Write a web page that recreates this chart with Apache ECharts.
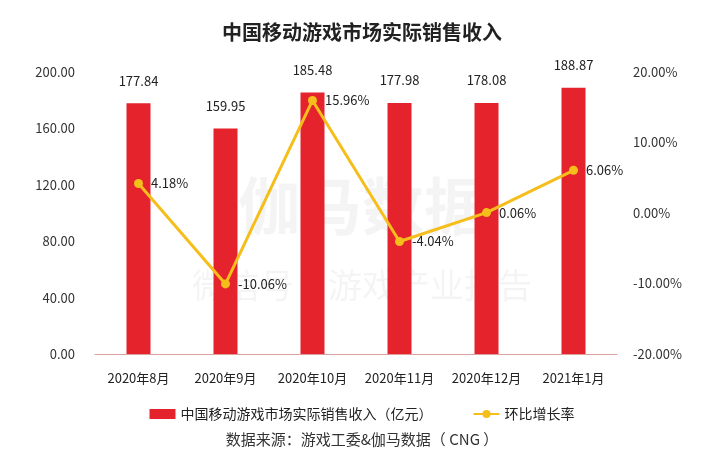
<!DOCTYPE html>
<html><head><meta charset="utf-8">
<script src="https://cdn.jsdelivr.net/npm/echarts@6/dist/echarts.min.js"></script>
<style>html,body{margin:0;padding:0;background:#fff}#c{width:724px;height:469px}</style>
</head><body><div id="c"></div>
<script>
const categories = ['2020年8月','2020年9月','2020年10月','2020年11月','2020年12月','2021年1月'];
const revenue = [177.84, 159.95, 185.48, 177.98, 178.08, 188.87];
const growth = [4.18, -10.06, 15.96, -4.04, 0.06, 6.06];
const leftTicks = [0, 200, 40];
const rightTicks = [-20, 20, 10];
const FONT = '"Noto Sans CJK SC", "Noto Sans", sans-serif';
const chart = echarts.init(document.getElementById('c'));
chart.setOption({
  backgroundColor: '#fff',
  textStyle: {fontFamily: FONT},
  title: {text: '中国移动游戏市场实际销售收入', left: 'center', top: 17,
    textStyle: {fontSize: 20, fontWeight: 'bold', color: '#222', fontFamily: FONT}},
  graphic: [
    {type: 'text', left: 'center', top: 175, style: {text: '伽马数据', fill: 'rgba(0,0,0,0.045)', font: 'bold 62px ' + FONT}},
    {type: 'text', left: 'center', top: 268, style: {text: '微信号：游戏产业报告', fill: 'rgba(0,0,0,0.045)', font: '34px ' + FONT}},
    {type: 'text', left: 'center', top: 432, style: {text: '数据来源：游戏工委&伽马数据（ CNG ）', fill: '#333', font: '15px ' + FONT}}
  ],
  legend: {top: 402, left: 'center', itemGap: 40, itemWidth: 26, itemHeight: 10,
    textStyle: {fontSize: 14, color: '#222', fontFamily: FONT},
    data: [{name: '中国移动游戏市场实际销售收入（亿元）', icon: 'rect'}, {name: '环比增长率'}]},
  grid: {left: 95, right: 107, top: 72, bottom: 115},
  xAxis: {type: 'category', data: categories,
    axisLine: {lineStyle: {color: '#d9a0a0'}}, axisTick: {show: false},
    axisLabel: {color: '#222', fontSize: 13, margin: 18, interval: 0, fontFamily: FONT}},
  yAxis: [
    {type: 'value', min: leftTicks[0], max: leftTicks[1], interval: leftTicks[2],
      splitLine: {show: false}, axisLine: {show: false}, axisTick: {show: false},
      axisLabel: {color: '#333', fontSize: 13, margin: 20, formatter: v => v.toFixed(2), fontFamily: FONT}},
    {type: 'value', min: rightTicks[0], max: rightTicks[1], interval: rightTicks[2],
      splitLine: {show: false}, axisLine: {show: false}, axisTick: {show: false},
      axisLabel: {color: '#333', fontSize: 13, margin: 16, formatter: v => v.toFixed(2) + '%', fontFamily: FONT}}
  ],
  series: [
    {name: '中国移动游戏市场实际销售收入（亿元）', type: 'bar', data: revenue, barWidth: 24,
      itemStyle: {color: '#e4232d'},
      label: {show: true, position: 'top', distance: 16, color: '#222', fontSize: 13, formatter: p => p.value.toFixed(2), fontFamily: FONT}},
    {name: '环比增长率', type: 'line', yAxisIndex: 1, data: growth, symbol: 'circle', symbolSize: 9,
      lineStyle: {color: '#f5be1b', width: 3}, itemStyle: {color: '#f5be1b'},
      label: {show: true, position: 'right', distance: 8, color: '#222', fontSize: 13, formatter: p => p.value.toFixed(2) + '%', fontFamily: FONT}}
  ]
});
</script></body></html>
